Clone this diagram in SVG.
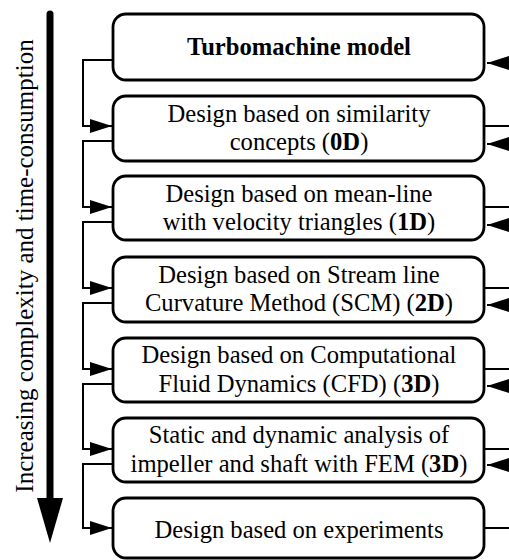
<svg xmlns="http://www.w3.org/2000/svg" width="509" height="560" viewBox="0 0 509 560">
<style>
.box{fill:#fff;stroke:#000;stroke-width:2.8}
.t{font-family:"Liberation Serif","Times New Roman",serif;font-size:24.6px;fill:#000;text-anchor:middle}
.b{font-weight:bold}
.c{fill:none;stroke:#000;stroke-width:2}
</style>
<defs>
<marker id="ah" markerUnits="userSpaceOnUse" markerWidth="23" markerHeight="15" refX="22" refY="7.5" orient="auto" viewBox="0 0 23 15">
<path d="M0,0.5 L22,7.5 L0,14.5 z" fill="#000"/>
</marker>
</defs>
<g id="side-arrow">
<line x1="50" y1="14" x2="50" y2="500" stroke="#000" stroke-width="7" stroke-linecap="round"/>
<polygon points="37,498 63,498 50,543" fill="#000"/>
<text class="t" style="font-size:25px" transform="translate(33,266) rotate(-90)">Increasing complexity and time-consumption</text>
</g>
<g id="connectors">
<path class="c" d="M113,60 H83 V126 H112" marker-end="url(#ah)"/>
<path class="c" d="M113,141 H83 V207 H112" marker-end="url(#ah)"/>
<path class="c" d="M113,222 H83 V288 H112" marker-end="url(#ah)"/>
<path class="c" d="M113,303 H83 V369 H112" marker-end="url(#ah)"/>
<path class="c" d="M113,384 H83 V449 H112" marker-end="url(#ah)"/>
<path class="c" d="M113,464 H83 V528 H112" marker-end="url(#ah)"/>
<path class="c" d="M512,63 H487" marker-end="url(#ah)"/>
<path class="c" d="M484,126 H512"/>
<path class="c" d="M512,144 H487" marker-end="url(#ah)"/>
<path class="c" d="M484,207 H512"/>
<path class="c" d="M512,225 H487" marker-end="url(#ah)"/>
<path class="c" d="M484,288 H512"/>
<path class="c" d="M512,305 H487" marker-end="url(#ah)"/>
<path class="c" d="M484,369 H512"/>
<path class="c" d="M512,386 H487" marker-end="url(#ah)"/>
<path class="c" d="M484,449 H512"/>
<path class="c" d="M512,465 H487" marker-end="url(#ah)"/>
<path class="c" d="M484,528 H512"/>
</g>
<g id="n1"><rect class="box" x="113" y="14" width="371" height="66" rx="13"/>
<text class="t b" x="299" y="55">Turbomachine model</text></g>
<g id="n2"><rect class="box" x="113" y="96" width="371" height="65" rx="13"/>
<text class="t" x="299" y="122">Design based on similarity</text>
<text class="t" x="299" y="150">concepts (<tspan class="b">0D</tspan>)</text></g>
<g id="n3"><rect class="box" x="113" y="176" width="371" height="64" rx="13"/>
<text class="t" x="299" y="202">Design based on mean-line</text>
<text class="t" x="299" y="230">with velocity triangles (<tspan class="b">1D</tspan>)</text></g>
<g id="n4"><rect class="box" x="113" y="257" width="371" height="65" rx="13"/>
<text class="t" x="299" y="283">Design based on Stream line</text>
<text class="t" x="299" y="311">Curvature Method (SCM) (<tspan class="b">2D</tspan>)</text></g>
<g id="n5"><rect class="box" x="113" y="338" width="371" height="64" rx="13"/>
<text class="t" x="299" y="363">Design based on Computational</text>
<text class="t" x="299" y="392">Fluid Dynamics (CFD) (<tspan class="b">3D</tspan>)</text></g>
<g id="n6"><rect class="box" x="113" y="418" width="371" height="64" rx="13"/>
<text class="t" x="299" y="443">Static and dynamic analysis of</text>
<text class="t" x="299" y="472">impeller and shaft with FEM (<tspan class="b">3D</tspan>)</text></g>
<g id="n7"><rect class="box" x="113" y="498" width="371" height="60" rx="13"/>
<text class="t" x="299" y="538">Design based on experiments</text></g>
</svg>
